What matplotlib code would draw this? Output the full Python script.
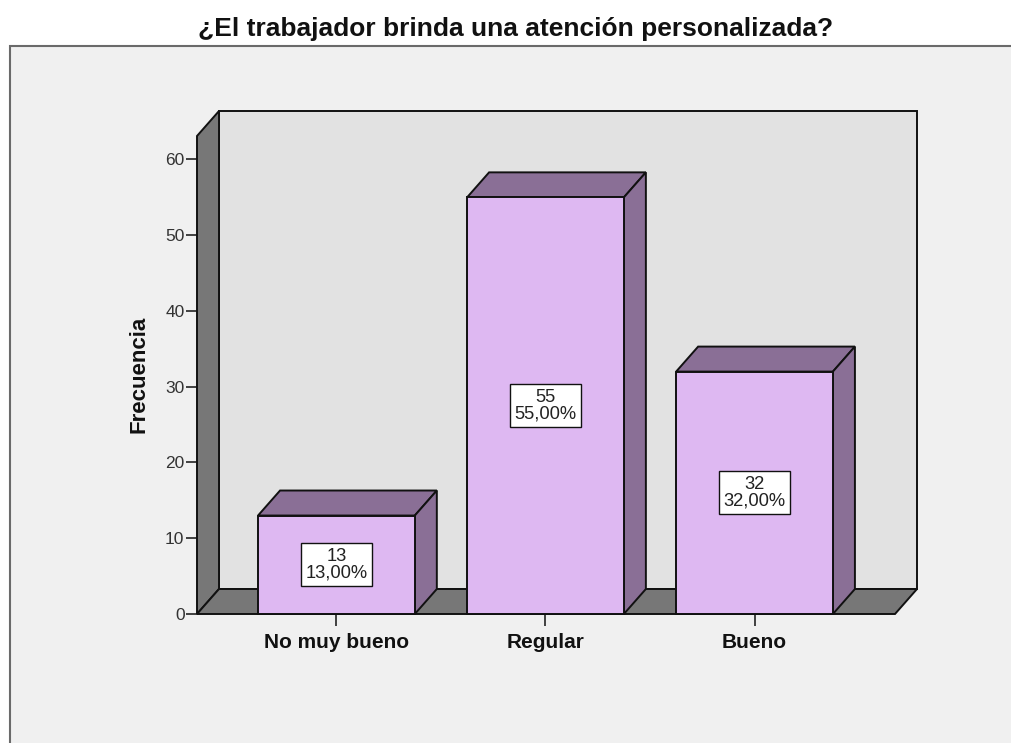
import matplotlib
matplotlib.use('Agg')
import matplotlib.pyplot as plt
from matplotlib.patches import Polygon, Rectangle

plt.rcParams['font.family'] = ['Liberation Sans', 'DejaVu Sans']

# Data
categories = ['No muy bueno', 'Regular', 'Bueno']
counts = [13, 55, 32]
percents = ['13,00%', '55,00%', '32,00%']
y_ticks = [0, 10, 20, 30, 40, 50, 60]
title = '¿El trabajador brinda una atención personalizada?'
y_label = 'Frecuencia'

W, H = 1011, 743

# Colors
bg_color = '#f0f0f0'
frame_color = '#6a6a6a'
wall_color = '#777777'
back_color = '#e2e2e2'
bar_color = '#deb8f2'
bar_side = '#8a6f96'
edge = '#111111'

# Limits of the front plane and the fake 3D depth, in data units
x0, x1 = -0.667, 2.672
y_top = 63.1
dx = 22 / 209
dy = 25 / 7.575
bar_width = 0.75


def face(ax, pts, color, z):
    ax.add_patch(Polygon(pts, closed=True, facecolor=color, edgecolor=edge,
                         linewidth=1.4, joinstyle='miter', zorder=z, clip_on=False))


fig = plt.figure(figsize=(W / 100, H / 100), dpi=100, facecolor='white')

# Outer panel, runs off the right and bottom of the picture
fig.add_artist(Rectangle((10 / W, -0.05), 1.1, 1 - 46 / H + 0.05, transform=fig.transFigure,
                         facecolor=bg_color, edgecolor=frame_color, linewidth=1.5, zorder=-1))

fig.text(516 / W, 1 - 29 / H, title, ha='center', va='center',
         fontsize=19, fontweight='bold', color='#111111')

ax = fig.add_axes([197 / W, 1 - 614 / H, (895 - 197) / W, (614 - 136) / H])
ax.patch.set_visible(False)
for s in ax.spines.values():
    s.set_visible(False)
ax.set_xlim(x0, x1)
ax.set_ylim(0, y_top)

# Back wall, left wall and floor
face(ax, [(x0 + dx, dy), (x1 + dx, dy), (x1 + dx, y_top + dy), (x0 + dx, y_top + dy)], back_color, 1)
face(ax, [(x0, 0), (x0, y_top), (x0 + dx, y_top + dy), (x0 + dx, dy)], wall_color, 2)
face(ax, [(x0, 0), (x1, 0), (x1 + dx, dy), (x0 + dx, dy)], wall_color, 2)

# Bars with top and side faces
for i, (c, p) in enumerate(zip(counts, percents)):
    left = i - bar_width / 2
    right = i + bar_width / 2
    face(ax, [(left, c), (right, c), (right + dx, c + dy), (left + dx, c + dy)], bar_side, 3)
    face(ax, [(right, 0), (right + dx, dy), (right + dx, c + dy), (right, c)], bar_side, 3)
    face(ax, [(left, 0), (right, 0), (right, c), (left, c)], bar_color, 4)
    ax.text(i, c / 2, '{}\n{}'.format(c, p), ha='center', va='center', fontsize=13.2,
            linespacing=0.95, color='#222222', zorder=5,
            bbox=dict(boxstyle='square,pad=0.26', facecolor='white', edgecolor=edge, linewidth=1))

ax.set_xticks(range(len(categories)))
ax.set_xticklabels(categories, fontsize=15, fontweight='bold', color='#111111')
ax.set_yticks(y_ticks)
ax.tick_params(axis='x', length=8.5, width=1.2, color='#222222', pad=5.5)
ax.tick_params(axis='y', length=8, width=1.2, color='#222222', pad=1, labelsize=12.5, labelcolor='#333333')
ax.set_ylabel(y_label, fontsize=16, fontweight='bold', color='#111111')
ax.yaxis.set_label_coords((149 - 197) / (895 - 197), (614 - 374) / (614 - 136))

fig.savefig('out.png', dpi=100)
